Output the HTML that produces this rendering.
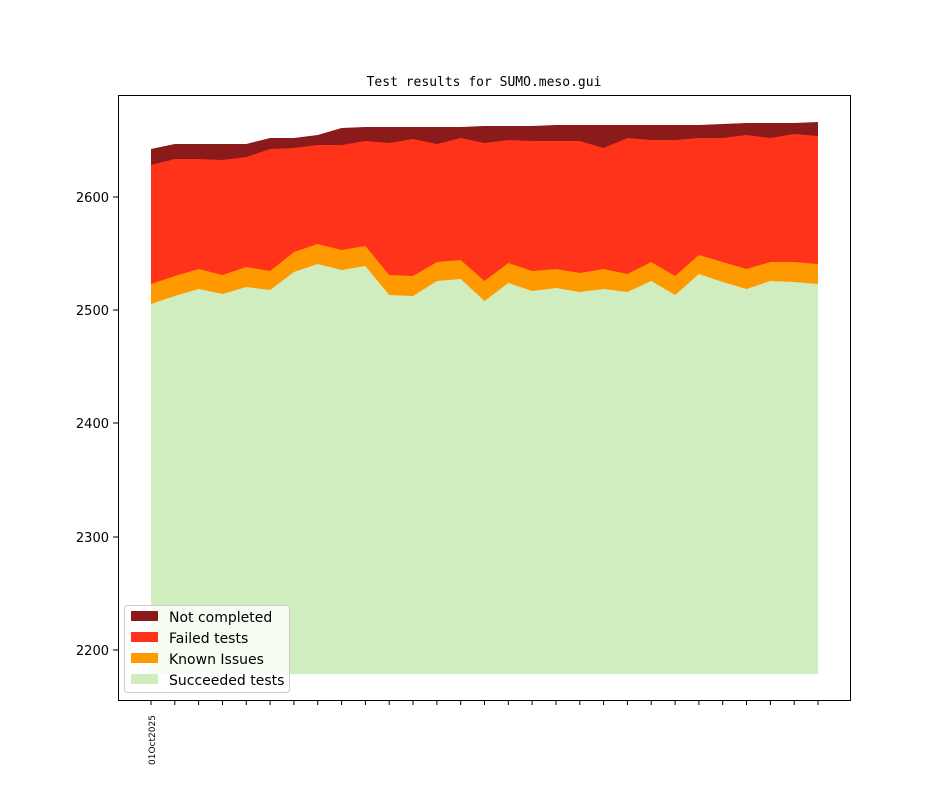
<!DOCTYPE html>
<html><head><meta charset="utf-8"><style>body{margin:0;background:#fff}</style></head><body>
<svg width="944" height="787" xmlns="http://www.w3.org/2000/svg" font-family="DejaVu Sans, Liberation Sans, sans-serif">
<rect width="944" height="787" fill="#fff"/>
<polygon fill="#8b1a1a" points="151,149 174.8,144 198.6,144 222.5,144 246.3,144 270.1,138 293.9,138 317.7,135 341.6,128 365.4,127 389.2,127 413,127 436.9,127 460.7,127 484.5,126 508.3,126 532.1,126 556,125 579.8,125 603.6,125 627.4,125 651.2,125 675.1,125 698.9,125 722.7,124 746.5,123 770.4,123 794.2,123 818,122 818,674 151,674"/>
<polygon fill="#ff321a" points="151,165 174.8,159 198.6,159 222.5,160 246.3,157 270.1,149 293.9,148 317.7,145 341.6,145 365.4,141 389.2,143 413,139 436.9,144 460.7,138 484.5,143 508.3,140 532.1,141 556,141 579.8,141 603.6,148 627.4,138 651.2,140 675.1,140 698.9,138 722.7,138 746.5,135 770.4,138 794.2,134 818,136 818,674 151,674"/>
<polygon fill="#ff9900" points="151,284 174.8,276 198.6,269 222.5,275 246.3,267 270.1,271 293.9,252 317.7,244 341.6,250 365.4,246 389.2,275 413,276 436.9,262 460.7,260 484.5,281 508.3,263 532.1,271 556,269 579.8,273 603.6,269 627.4,274 651.2,262 675.1,276 698.9,255 722.7,262 746.5,269 770.4,262 794.2,262 818,264 818,674 151,674"/>
<polygon fill="#cfedbe" points="151,304 174.8,296 198.6,289 222.5,294 246.3,287 270.1,290 293.9,272 317.7,264 341.6,270 365.4,266 389.2,295 413,296 436.9,281 460.7,279 484.5,301 508.3,283 532.1,291 556,288 579.8,292 603.6,289 627.4,292 651.2,281 675.1,295 698.9,274 722.7,282 746.5,289 770.4,281 794.2,282 818,284 818,674 151,674"/>
<rect x="118.5" y="95.5" width="732" height="605" fill="none" stroke="#000" stroke-width="1"/>
<text x="484" y="86" font-family="DejaVu Sans Mono, Liberation Mono, monospace" font-size="13" text-anchor="middle">Test results for SUMO.meso.gui</text>
<g font-size="13" text-anchor="end" fill="#000" stroke="none">
<line x1="113" y1="197" x2="118" y2="197" stroke="#000"/><text x="109" y="202">2600</text>
<line x1="113" y1="310" x2="118" y2="310" stroke="#000"/><text x="109" y="315">2500</text>
<line x1="113" y1="423" x2="118" y2="423" stroke="#000"/><text x="109" y="428">2400</text>
<line x1="113" y1="537" x2="118" y2="537" stroke="#000"/><text x="109" y="542">2300</text>
<line x1="113" y1="650" x2="118" y2="650" stroke="#000"/><text x="109" y="655">2200</text>
</g>
<path stroke="#000" stroke-width="1" d="M151,700v5M174.8,700v5M198.6,700v5M222.5,700v5M246.3,700v5M270.1,700v5M293.9,700v5M317.7,700v5M341.6,700v5M365.4,700v5M389.2,700v5M413,700v5M436.9,700v5M460.7,700v5M484.5,700v5M508.3,700v5M532.1,700v5M556,700v5M579.8,700v5M603.6,700v5M627.4,700v5M651.2,700v5M675.1,700v5M698.9,700v5M722.7,700v5M746.5,700v5M770.4,700v5M794.2,700v5M818,700v5"/>
<text transform="translate(155,765) rotate(-90)" font-size="9">01Oct2025</text>
<g>
<rect x="124.5" y="605.5" width="165" height="87" rx="3" fill="#fff" fill-opacity="0.8" stroke="#ccc"/>
<rect x="131" y="611" width="27" height="10" fill="#8b1a1a"/><text x="169" y="622" font-size="14">Not completed</text>
<rect x="131" y="632" width="27" height="10" fill="#ff321a"/><text x="169" y="643" font-size="14">Failed tests</text>
<rect x="131" y="653" width="27" height="10" fill="#ff9900"/><text x="169" y="664" font-size="14">Known Issues</text>
<rect x="131" y="674" width="27" height="10" fill="#cfedbe"/><text x="169" y="685" font-size="14">Succeeded tests</text>
</g>
</svg>
</body></html>
